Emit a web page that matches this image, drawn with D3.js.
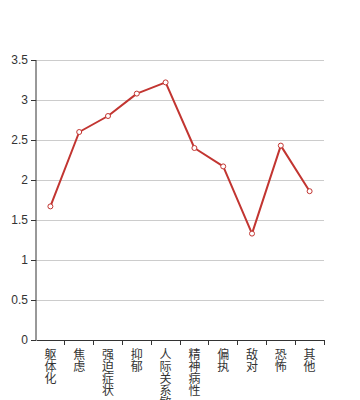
<!DOCTYPE html>
<html><head><meta charset="utf-8">
<script src="https://cdn.jsdelivr.net/npm/d3@7"></script>
<style>html,body{margin:0;padding:0;background:#fff;}</style>
</head><body>
<svg id="c" width="360" height="400"></svg>
<script>
const categories = ["躯体化","焦虑","强迫症状","抑郁","人际关系敏感","精神病性","偏执","敌对","恐怖","其他"];
const values = [1.67, 2.60, 2.80, 3.08, 3.22, 2.40, 2.17, 1.33, 2.43, 1.86];
const yTicks = [0, 0.5, 1, 1.5, 2, 2.5, 3, 3.5];

const svg = d3.select("#c");
const m = {left:36, right:36, top:60, bottom:60};
const W = 360, H = 400;
const x = d3.scaleBand().domain(categories).range([m.left, W - m.right]);
const y = d3.scaleLinear().domain([0, 3.5]).range([H - m.bottom, m.top]);
const font = "'Noto Sans CJK SC', sans-serif";

// gridlines
svg.append("g").selectAll("line").data(yTicks.filter(d=>d>0)).join("line")
  .attr("x1", m.left).attr("x2", W - m.right)
  .attr("y1", d=>y(d)).attr("y2", d=>y(d))
  .attr("stroke", "#ccc").attr("stroke-width", 1).attr("shape-rendering","crispEdges");

// y axis
const ya = svg.append("g").attr("transform", `translate(${m.left},0)`)
  .call(d3.axisLeft(y).tickValues(yTicks).tickSize(5).tickPadding(3).tickFormat(d3.format("")));
ya.select(".domain").attr("stroke", "#333").attr("d", `M-0,${y(3.5)}V${y(0)}`);
ya.selectAll(".tick line").attr("stroke", "#333");
ya.selectAll("text").attr("fill", "#333").style("font-size", "12px").style("font-family", "sans-serif");

// x axis
const xa = svg.append("g").attr("transform", `translate(0,${H - m.bottom})`)
  .call(d3.axisBottom(x).tickSize(0).tickFormat(""));
xa.select(".domain").attr("stroke", "#333");
const edges = categories.map(c => x(c)).concat([x(categories[categories.length-1]) + x.bandwidth()]);
xa.append("g").selectAll("line").data(edges.slice(1)).join("line")
  .attr("x1", d=>d).attr("x2", d=>d).attr("y1", 0).attr("y2", 5)
  .attr("stroke", "#333").attr("shape-rendering","crispEdges");
// vertical labels
svg.append("g").selectAll("text").data(categories).join("text")
  .attr("x", c => x(c) + x.bandwidth()/2).attr("y", H - m.bottom + 8)
  .attr("text-anchor", "start").attr("fill", "#333")
  .style("writing-mode", "vertical-rl").style("text-orientation", "upright")
  .style("font-size", "12px").style("font-family", font)
  .text(c => c);

// line
const line = d3.line().x((d,i)=>x(categories[i]) + x.bandwidth()/2).y(d=>y(d));
svg.append("path").datum(values).attr("d", line)
  .attr("fill", "none").attr("stroke", "#c23531").attr("stroke-width", 2).attr("stroke-linejoin","round");
svg.append("g").selectAll("circle").data(values).join("circle")
  .attr("cx", (d,i)=>x(categories[i]) + x.bandwidth()/2).attr("cy", d=>y(d))
  .attr("r", 2.5).attr("fill", "#fff").attr("stroke", "#c23531").attr("stroke-width", 1);
</script>
</body></html>
